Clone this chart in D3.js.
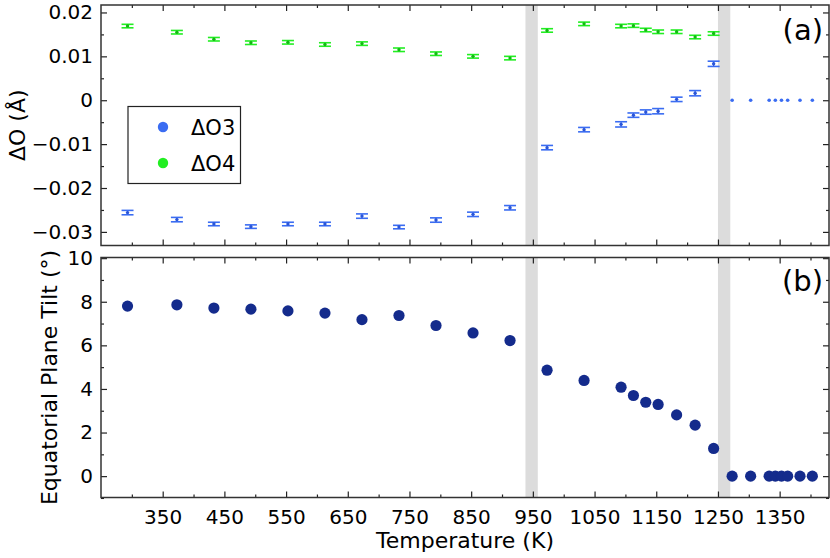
<!DOCTYPE html>
<html><head><meta charset="utf-8">
<script src="https://cdn.jsdelivr.net/npm/d3@7"></script>
<style>body{margin:0;background:#fff}svg{display:block}text{font-family:"DejaVu Sans",sans-serif;fill:#000}</style>
</head><body>
<script>
// ---- data ----
const tempsA = [293,373,433,493,553,613,673,733,793,853,913,973,1033,1093,1113,1133,1153,1183,1213,1243];
const dO3 = [-0.0256,-0.0272,-0.0282,-0.0288,-0.0282,-0.0282,-0.0264,-0.0289,-0.0273,-0.0260,-0.0245,-0.0108,-0.0067,-0.0055,-0.0034,-0.0027,-0.0025,0.0002,0.0016,0.0083];
const dO3err = [0.0005,0.0005,0.0004,0.0004,0.0004,0.0004,0.0005,0.0004,0.0005,0.0005,0.0005,0.0005,0.0005,0.0006,0.0005,0.0005,0.0006,0.0005,0.0006,0.0006];
const dO4 = [0.0169,0.0155,0.0139,0.0131,0.0132,0.0127,0.0129,0.0115,0.0106,0.0100,0.0096,0.0159,0.0174,0.0169,0.0170,0.0160,0.0156,0.0156,0.0144,0.0152];
const dO4err = [0.0004,0.0004,0.0004,0.0004,0.0004,0.0004,0.0004,0.0004,0.0004,0.0004,0.0004,0.0004,0.0004,0.0004,0.0004,0.0004,0.0004,0.0004,0.0004,0.0004];
const tempsZero = [1273,1303,1333,1343,1353,1363,1383,1403];
const zeroVals = [0,0,0,0,0,0,0,0];
const tempsB = [293,373,433,493,553,613,673,733,793,853,913,973,1033,1093,1113,1133,1153,1183,1213,1243,1273,1303,1333,1343,1353,1363,1383,1403];
const tilt = [7.80,7.86,7.71,7.66,7.58,7.48,7.18,7.37,6.91,6.57,6.22,4.86,4.39,4.08,3.70,3.39,3.29,2.81,2.34,1.27,0,0,0,0,0,0,0,0];
const bands = [[938,958],[1250,1270]];
const xTickVals = [350,450,550,650,750,850,950,1050,1150,1250,1350];
const yTicksA = [-0.03,-0.02,-0.01,0,0.01,0.02];
const yTicksB = [0,2,4,6,8,10];
const legendNames = ["\u0394O3","\u0394O4"];

// ---- layout ----
const W=830,H=558;
const L=101,R=829;
const A={top:5,bot:245.5}, B={top:257.5,bot:497.5};
const svg=d3.select("body").append("svg").attr("width",W).attr("height",H);
const x=d3.scaleLinear().domain([250,1430]).range([L,R]);
const yA=d3.scaleLinear().domain([-0.0331,0.0217]).range([A.bot,A.top]);
const yB=d3.scaleLinear().domain([-0.98,10.03]).range([B.bot,B.top]);
const cBlue="#3a6cf2", cBlueD="#2a55d8", cGreen="#22ee22", cGreenD="#11bb11", cNavy="#142b8c";
const minorX=d3.range(300,1430,100);

function panel(y, P, majorY, minorY, showX){
  const g=svg.append("g");
  g.selectAll("rect.band").data(bands).join("rect")
    .attr("x",d=>x(d[0])).attr("width",d=>x(d[1])-x(d[0]))
    .attr("y",P.top).attr("height",P.bot-P.top).attr("fill","#dcdcdc");
  const ax=g.append("g");
  ax.append("g").attr("transform",`translate(0,${P.bot})`)
    .call(d3.axisBottom(x).tickValues(xTickVals).tickSize(-6).tickPadding(12).tickFormat(showX?d3.format("d"):()=>""));
  ax.append("g").attr("transform",`translate(0,${P.bot})`).call(d3.axisBottom(x).tickValues(minorX).tickSize(-3).tickFormat(()=>""));
  ax.append("g").attr("transform",`translate(0,${P.top})`).call(d3.axisTop(x).tickValues(xTickVals).tickSize(-6).tickFormat(()=>""));
  ax.append("g").attr("transform",`translate(0,${P.top})`).call(d3.axisTop(x).tickValues(minorX).tickSize(-3).tickFormat(()=>""));
  ax.append("g").attr("transform",`translate(${L},0)`).call(d3.axisLeft(y).tickValues(majorY.v).tickSize(-6).tickPadding(8).tickFormat(majorY.f));
  ax.append("g").attr("transform",`translate(${L},0)`).call(d3.axisLeft(y).tickValues(minorY).tickSize(-3).tickFormat(()=>""));
  ax.append("g").attr("transform",`translate(${R},0)`).call(d3.axisRight(y).tickValues(majorY.v).tickSize(-6).tickFormat(()=>""));
  ax.append("g").attr("transform",`translate(${R},0)`).call(d3.axisRight(y).tickValues(minorY).tickSize(-3).tickFormat(()=>""));
  ax.selectAll(".domain").remove();
  ax.selectAll("line").attr("stroke","#222").attr("stroke-width",1.2);
  ax.selectAll("text").style("font-size","20px").attr("fill","#000");
  g.append("rect").attr("x",L).attr("y",P.top).attr("width",R-L).attr("height",P.bot-P.top)
    .attr("fill","none").attr("stroke","#333").attr("stroke-width",1.5);
  return g;
}

// ---- panel (a) ----
const gA=panel(yA,A,{v:yTicksA,f:d=>d===0?"0":d3.format(".2f")(d).replace("-","\u2212")},d3.range(-0.025,0.021,0.01),false);
function errSeries(vals,errs,col,colD){
  const g=gA.append("g");
  const data=tempsA.map((t,i)=>({t,v:vals[i],e:errs[i]}));
  g.selectAll("line.v").data(data).join("line").attr("x1",d=>x(d.t)).attr("x2",d=>x(d.t))
    .attr("y1",d=>yA(d.v-d.e)).attr("y2",d=>yA(d.v+d.e)).attr("stroke",colD).attr("stroke-width",1.2);
  [-1,1].forEach(s=>{
    g.selectAll("line.c"+s).data(data).join("line").attr("x1",d=>x(d.t)-6).attr("x2",d=>x(d.t)+6)
      .attr("y1",d=>yA(d.v+s*d.e)).attr("y2",d=>yA(d.v+s*d.e)).attr("stroke",col).attr("stroke-width",1.6);
  });
  g.selectAll("circle").data(data).join("circle").attr("cx",d=>x(d.t)).attr("cy",d=>yA(d.v)).attr("r",1.7).attr("fill",colD);
}
errSeries(dO4,dO4err,cGreen,cGreenD);
errSeries(dO3,dO3err,cBlue,cBlueD);
gA.append("g").selectAll("circle").data(tempsZero.map((t,i)=>({t,v:zeroVals[i]}))).join("circle")
  .attr("cx",d=>x(d.t)).attr("cy",d=>yA(d.v)).attr("r",1.8).attr("fill",cBlue);
gA.append("text").attr("x",823).attr("y",40).attr("text-anchor","end").style("font-size","29px").text("(a)");
// legend
const lg=gA.append("g");
lg.append("rect").attr("x",128).attr("y",106.5).attr("width",112.5).attr("height",77).attr("fill","#fff").attr("stroke","#222").attr("stroke-width",1.2);
[cBlue,cGreen].forEach((c,i)=>{
  lg.append("circle").attr("cx",163).attr("cy",127+i*36).attr("r",5.2).attr("fill",c);
  lg.append("text").attr("x",191).attr("y",134.5+i*36).style("font-size","21px").text(legendNames[i]);
});
svg.append("text").attr("transform",`translate(25,${(A.top+A.bot)/2}) rotate(-90)`).attr("text-anchor","middle")
  .style("font-size","22px").text("\u0394O (\u00C5)");

// ---- panel (b) ----
const gB=panel(yB,B,{v:yTicksB,f:d3.format("d")},d3.range(-1,10,2),true);
gB.append("g").selectAll("circle").data(tempsB.map((t,i)=>({t,v:tilt[i]}))).join("circle")
  .attr("cx",d=>x(d.t)).attr("cy",d=>yB(d.v)).attr("r",5.6).attr("fill",cNavy);
gB.append("text").attr("x",823).attr("y",291).attr("text-anchor","end").style("font-size","29px").text("(b)");
svg.append("text").attr("transform",`translate(57,${(B.top+B.bot)/2}) rotate(-90)`).attr("text-anchor","middle")
  .style("font-size","22px").text("Equatorial Plane Tilt (\u00B0)");
svg.append("text").attr("x",(L+R)/2).attr("y",548).attr("text-anchor","middle").style("font-size","22px").text("Temperature (K)");
</script>
</body></html>
